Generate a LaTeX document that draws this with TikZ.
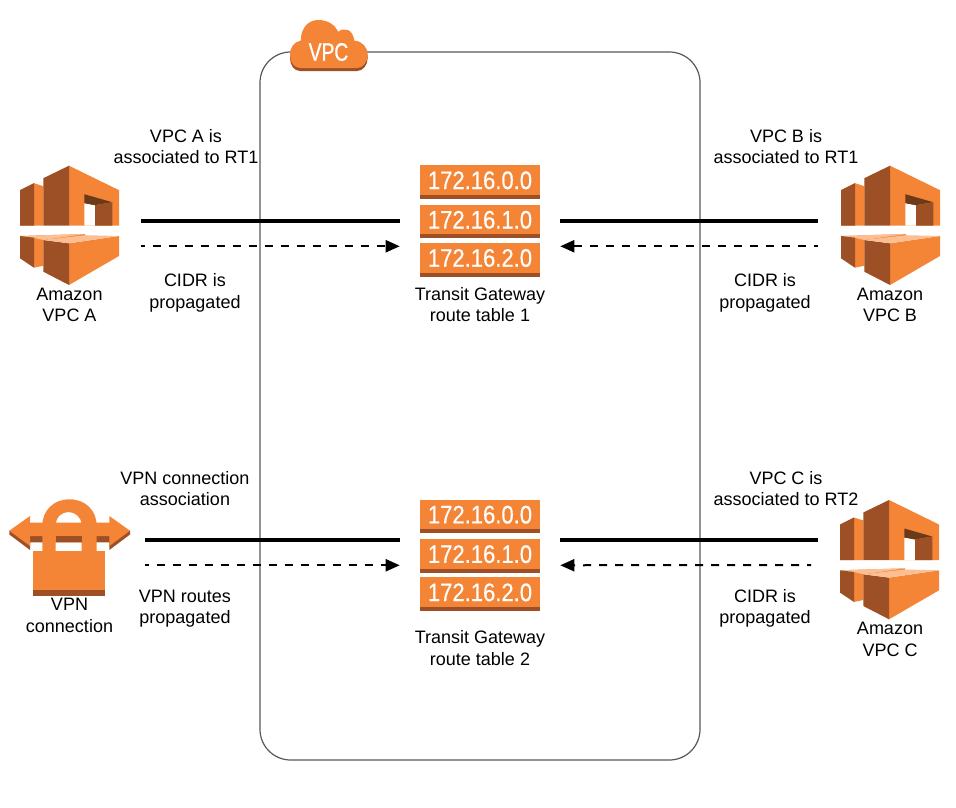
\documentclass[tikz,border=0pt]{standalone}
\usepackage{fontspec}
\setmainfont{Liberation Sans}
\newfontfamily\cond[FakeStretch=0.87,FakeBold=0.4]{Liberation Sans}
\newfontfamily\condb[FakeStretch=0.76,FakeBold=0.8]{Liberation Sans}
\usetikzlibrary{arrows.meta}
\definecolor{aws}{HTML}{F58536}
\definecolor{awsd}{HTML}{9D5025}
\definecolor{awsl}{HTML}{FBBF93}
\definecolor{awsm}{HTML}{6B3A19}
\tikzset{
  x=0.75pt,y=-0.75pt,
  lbl/.style={font=\fontsize{13.5}{16}\selectfont,align=center,text=black,inner sep=0pt},
  rowtxt/.style={font=\cond\fontsize{19}{19}\selectfont,text=white,inner sep=0pt},
  assoc/.style={draw=black,line width=3pt},
  prop/.style={draw=black,line width=1.5pt,dash pattern=on 6pt off 6pt,dash phase=3pt,-{Triangle[length=10.5pt,width=9pt]}},
  port/.style 2 args={draw=none,inner sep=0pt,minimum width=#1*0.75pt,minimum height=#2*0.75pt},
  pics/vpcicon/.style={code={
    % upper part
    \fill[aws] (0,24.5) -- (14,17.5) -- (23.3,20.5) -- (23.3,60) -- (0,60) -- cycle;
    \fill[awsd] (0,24.5) -- (14,17.5) -- (14,60) -- (0,60) -- cycle;
    \fill[aws] (49,0) -- (99,24.5) -- (99,60) -- (49,60) -- cycle;
    \fill[awsd] (23.3,12.5) -- (49,0) -- (49,60) -- (23.3,60) -- cycle;
    \fill[white] (64.3,37.5) -- (75,39.5) -- (75,60) -- (64.3,60) -- cycle;
    \fill[awsm] (64.3,28.5) -- (92.3,36.5) -- (75,39.5) -- (64.3,37.5) -- cycle;
    \fill[awsd] (75,39.5) -- (92.3,36.5) -- (92.3,60) -- (75,60) -- cycle;
    % lower part
    \fill[aws] (0,70.3) -- (65,68.3) -- (65,72) -- (23.3,74.3) -- (23.3,100) -- (14,102) -- (14,72) -- cycle;
    \fill[awsl] (0,70.3) -- (65,68.3) -- (23.3,74.3) -- (14,72) -- cycle;
    \fill[awsd] (0,70.3) -- (14,72) -- (14,102) -- (0,92.6) -- cycle;
    \fill[aws] (49,77.6) -- (99,70.3) -- (99,90.3) -- (49,119.3) -- cycle;
    \fill[awsd] (23.3,74.3) -- (49,77.6) -- (49,119.3) -- (23.3,106) -- cycle;
    \fill[awsl] (23.3,74.3) -- (65,69.5) -- (99,70.3) -- (49,77.6) -- cycle;
  }},
  pics/rtable/.style={code={
    \foreach \yy/\tt in {0/172.16.0.0,39.5/172.16.1.0,77.7/172.16.2.0}{
      \fill[aws] (0,\yy) rectangle (120,\yy+29.5);
      \fill[awsd] (0,\yy+29.5) rectangle (120,\yy+33.5);
      \node[rowtxt] at (60,\yy+15) {\tt};
    }
  }},
}
\begin{document}
\begin{tikzpicture}
\useasboundingbox (0,0) rectangle (956,807);
\fill[white] (0,0) rectangle (956,807);

% container
\draw[draw=black!65,line width=0.9pt,rounded corners=23pt] (260,52) rectangle (700,760);

% VPC cloud
\path[fill=awsd] (290,58) .. controls (290,50) and (294,45) .. (300.7,43.7)
  .. controls (301,30) and (309,23) .. (318.3,23)
  .. controls (328,23) and (335,28) .. (338.3,34.7)
  .. controls (344,30) and (353,32) .. (354.3,43.7)
  .. controls (362,44) and (367.7,50) .. (367.7,58)
  .. controls (367.7,65) and (363,71) .. (357,71) -- (300,71)
  .. controls (294,71) and (290,65) .. (290,58) -- cycle;
\path[fill=aws] (290,55) .. controls (290,47) and (294,42) .. (300.7,40.7)
  .. controls (301,27) and (309,20) .. (318.3,20)
  .. controls (328,20) and (335,25) .. (338.3,31.7)
  .. controls (344,27) and (353,29) .. (354.3,40.7)
  .. controls (362,41) and (367.7,47) .. (367.7,55)
  .. controls (367.7,62) and (363,68) .. (357,68) -- (300,68)
  .. controls (294,68) and (290,62) .. (290,55) -- cycle;
\node[font=\condb\fontsize{19}{19}\selectfont,text=white,inner sep=0pt] (vpclabel) at (328.5,52) {VPC};

% icons
\pic at (20,165.7) {vpcicon};
\pic at (841,165.7) {vpcicon};
\pic at (840,500) {vpcicon};

% VPN lock
\fill[awsd] (9.3,530.7) -- (9.3,534.5) -- (30,550) -- (30,542.3) -- (109.3,542.3) -- (109.3,550) -- (130,534.5) -- (130,530.7) -- cycle;
\fill[aws] (9.3,530.7) -- (30,516) -- (30,522.7) -- (109.3,522.7) -- (109.3,516) -- (130,530.7) -- (109.3,546) -- (109.3,536) -- (30,536) -- (30,546) -- cycle;
\fill[aws,even odd rule] (42.3,551) -- (42.3,526) .. controls (42.3,510) and (54,499.3) .. (69.5,499.3) .. controls (85,499.3) and (96.7,510) .. (96.7,526) -- (96.7,551) -- (81.7,551) -- (81.7,542.3) -- (55.7,542.3) -- (55.7,551) -- cycle
  (55.7,524) .. controls (56,517) and (62,512) .. (68.5,512) .. controls (75,512) and (81,517) .. (81.7,524) -- cycle;
\fill[aws] (55.7,524) rectangle (81.7,536);
\fill[awsd] (55.7,536) rectangle (81.7,542.3);
\fill[aws] (33.3,551) rectangle (105.3,590);
\fill[awsd] (33.3,590) rectangle (105.3,596);

% route tables
\pic at (420,165.3) {rtable};
\pic at (420,499.7) {rtable};

% connector end nodes
\node[port={121}{25}] (vpcA) at (80.5,233.5) {};
\node[port={122}{25}] (vpcB) at (879,233.5) {};
\node[port={160}{25}] (rt1) at (480,233.5) {};
\node[port={135}{25}] (vpn) at (77.5,552.5) {};
\node[port={122}{25}] (vpcC) at (879,552.5) {};
\node[port={160}{25}] (rt2) at (480,552.5) {};
\coordinate (vpcCprop) at (811,565);

\draw[assoc] (vpcA.north east) -- (rt1.north west);
\draw[prop] (vpcA.south east) -- (rt1.south west);
\draw[assoc] (vpcB.north west) -- (rt1.north east);
\draw[prop] (vpcB.south west) -- (rt1.south east);
\draw[assoc] (vpn.north east) -- (rt2.north west);
\draw[prop] (vpn.south east) -- (rt2.south west);
\draw[assoc] (vpcC.north west) -- (rt2.north east);
\draw[prop] (vpcCprop) -- (rt2.south east);

% labels
\node[lbl] (t1) at (186,146.5) {VPC A is\\associated to RT1};
\node[lbl] (t2) at (195,293) {CIDR is\\propagated};
\node[lbl] (t3) at (69.5,305) {Amazon\\VPC A};
\node[lbl] (t4) at (480,304.5) {Transit Gateway\\route table 1};
\node[lbl] (t5) at (786,146.5) {VPC B is\\associated to RT1};
\node[lbl] (t6) at (765,293) {CIDR is\\propagated};
\node[lbl] (t7) at (890,305) {Amazon\\VPC B};
\node[lbl] (t8) at (185,488.5) {VPN connection\\association};
\node[lbl] (t9) at (185,608.5) {VPN routes\\propagated};
\node[lbl] (t10) at (69.5,615.5) {VPN\\connection};
\node[lbl] (t11) at (480,648) {Transit Gateway\\route table 2};
\node[lbl] (t12) at (786,488.5) {VPC C is\\associated to RT2};
\node[lbl] (t13) at (765,608.5) {CIDR is\\propagated};
\node[lbl] (t14) at (890,639.5) {Amazon\\VPC C};
\end{tikzpicture}
\end{document}
